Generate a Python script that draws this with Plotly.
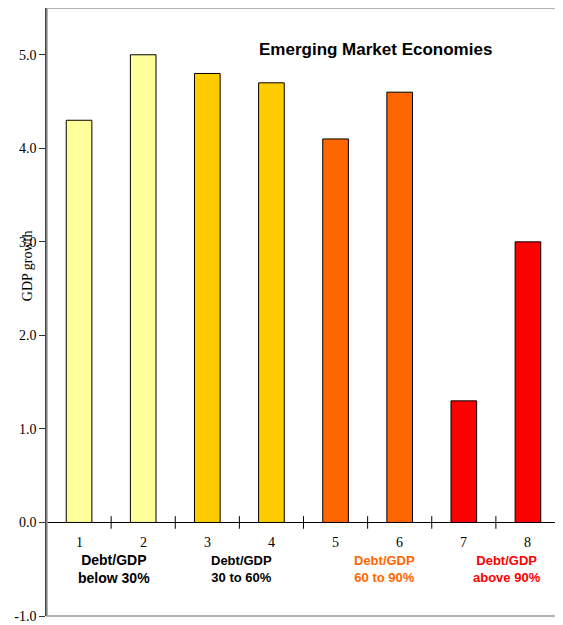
import plotly.graph_objects as go

categories = [1, 2, 3, 4, 5, 6, 7, 8]
growth = [4.3, 5.0, 4.8, 4.7, 4.1, 4.6, 1.3, 3.0]
bar_colors = ["#FFFF99", "#FFFF99", "#FFCC00", "#FFCC00", "#FF6600", "#FF6600", "#FF0000", "#FF0000"]
y_tickvals = [-1, 0, 1, 2, 3, 4, 5]
y_ticktext = ["-1.0", "0.0", "1.0", "2.0", "3.0", "4.0", "5.0"]
boundaries = [1.5, 2.5, 3.5, 4.5, 5.5, 6.5, 7.5]
group_labels = ["Debt/GDP<br>below 30%", "Debt/GDP<br>30 to 60%", "Debt/GDP<br>60 to 90%", "Debt/GDP<br>above 90%"]
group_x = [1.55, 3.54, 5.76, 7.67]
group_colors = ["#000000", "#000000", "#FF6600", "#FF0000"]
group_sizes = [14, 13, 13, 13]

SERIF = "Liberation Serif, Times New Roman, serif"
SANS = "Liberation Sans, Arial, sans-serif"

fig = go.Figure()
fig.add_trace(go.Bar(
    x=categories, y=growth, width=0.4,
    marker=dict(color=bar_colors, line=dict(color="#000000", width=1)),
    showlegend=False, hoverinfo="skip",
))
fig.add_trace(go.Scatter(
    x=boundaries, y=[0] * len(boundaries), mode="markers",
    marker=dict(symbol="line-ns", size=9, line=dict(color="#000000", width=1)),
    showlegend=False, hoverinfo="skip", cliponaxis=False,
))

annotations = []
for c in categories:
    annotations.append(dict(x=c, y=0, xref="x", yref="y", text=str(c), showarrow=False,
                            yanchor="middle", yshift=-20,
                            font=dict(family=SERIF, size=14, color="#000000")))
for lbl, gx, col, sz in zip(group_labels, group_x, group_colors, group_sizes):
    annotations.append(dict(x=gx, y=0, xref="x", yref="y", text="<b>" + lbl + "</b>", showarrow=False,
                            yanchor="middle", yshift=-47, align="center",
                            font=dict(family=SANS, size=sz, color=col)))
annotations.append(dict(x=0.641, y=0.931, xref="paper", yref="paper",
                        text="<b>Emerging Market Economies</b>", showarrow=False,
                        xanchor="center", yanchor="middle",
                        font=dict(family=SANS, size=17, color="#000000")))
annotations.append(dict(x=0, y=2.74, xref="paper", yref="y", text="GDP growth", textangle=-90,
                        showarrow=False, xanchor="center", yanchor="middle", xshift=-20,
                        font=dict(family=SERIF, size=14, color="#000000")))

fig.update_layout(
    width=555, height=617,
    margin=dict(l=39, r=3, t=0, b=9),
    paper_bgcolor="#FFFFFF", plot_bgcolor="#FFFFFF",
    annotations=annotations,
    shapes=[dict(type="rect", xref="paper", yref="paper", x0=0, y0=0, x1=1, y1=1,
                 line=dict(color="#9A9A9A", width=1.5), layer="above")],
    xaxis=dict(range=[0.5, 8.5], showticklabels=False, ticks="", showgrid=False,
               zeroline=False, showline=False, fixedrange=True),
    yaxis=dict(range=[-1, 5.5], tickvals=y_tickvals, ticktext=y_ticktext,
               ticks="outside", ticklen=6, tickcolor="#333333", showgrid=False,
               zeroline=True, zerolinecolor="#000000", zerolinewidth=1,
               showline=True, linecolor="#444444", linewidth=1.5,
               tickfont=dict(family=SERIF, size=14, color="#000000"), fixedrange=True),
    bargap=0.6,
)

fig.write_html("out.html")
